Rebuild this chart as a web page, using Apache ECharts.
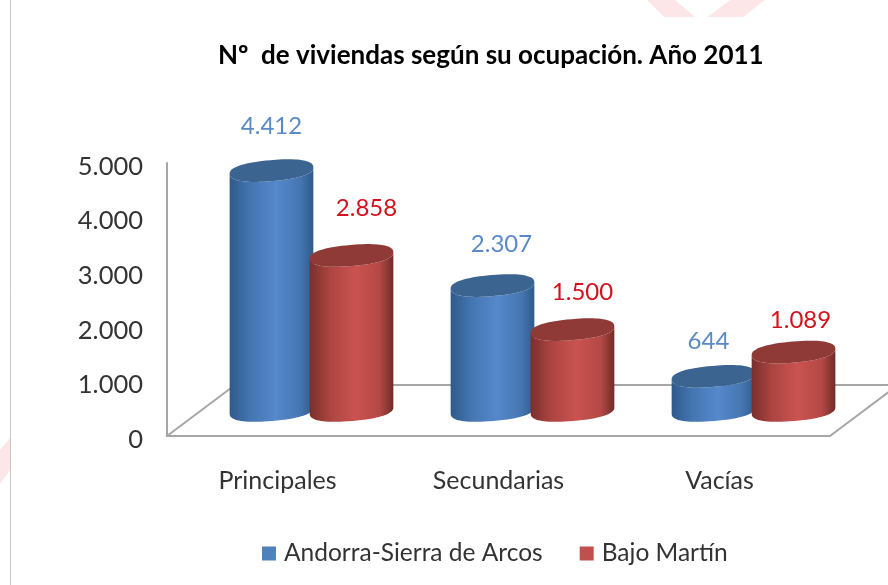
<!DOCTYPE html>
<html><head><meta charset="utf-8">
<style>html,body{margin:0;padding:0;background:#fff}#c{width:888px;height:585px}</style>
<script src="https://cdn.jsdelivr.net/npm/echarts@6/dist/echarts.min.js"></script>
</head><body><div id="c"></div>
<script>
const categories = ['Principales', 'Secundarias', 'Vacías'];
const andorra = [4412, 2307, 644];
const bajoMartin = [2858, 1500, 1089];
const yTicks = { min: 0, max: 5000, interval: 1000 };

// styling / layout constants (not data)
const FONT = 'Lato';
const DEPTH = { dx: 68, dy: -51 };
const R = { x: 42, y: 10.5, tilt: -0.085, blunt: 0.85 };
const fmt = v => String(v).replace(/\B(?=(\d{3})+$)/g, '.');
const labelNudge = {
  Andorra: [[0, -44], [9, -41], [-5, -35]],
  Bajo: [[15, -47], [10, -37], [7, -32]]
};
const paints = {
  Andorra: { top: '#3c6491', legend: '#4f81bd', text: '#5a8ac6', stops: ['#2e5a8c', '#4576b2', '#5588cc', '#4676b2', '#2f5b8b'] },
  Bajo: { top: '#8f3a36', legend: '#c0504d', text: '#d2121c', stops: ['#7a2f2c', '#ad4542', '#ca5350', '#b34845', '#702b28'] }
};

function ellipsePts(cx, cy, from, to, n) {
  const out = [];
  const pw = c => Math.sign(c) * Math.pow(Math.abs(c), R.blunt);
  for (let k = 0; k <= n; k++) {
    const t = from + (to - from) * k / n;
    const ex = R.x * pw(Math.cos(t)), ey = R.y * pw(Math.sin(t));
    out.push([cx + ex * Math.cos(R.tilt) - ey * Math.sin(R.tilt),
              cy + ex * Math.sin(R.tilt) + ey * Math.cos(R.tilt)]);
  }
  return out;
}

function cylinder(key, side) {
  return function (params, api) {
    const i = api.value(0), v = api.value(1);
    const base = api.coord([i, 0]), top = api.coord([i, v]);
    const band = api.size([1, 0])[0];
    const cx = base[0] + DEPTH.dx / 2 + side * band * 0.181;
    const by = base[1] + DEPTH.dy / 2;
    const ty = top[1] + DEPTH.dy / 2 + 1;
    const p = paints[key], s = p.stops;
    const nudge = labelNudge[key][i];
    const body = ellipsePts(cx, by, 0, Math.PI, 40).concat(ellipsePts(cx, ty, Math.PI, 0, 40));
    return {
      type: 'group',
      children: [
        { type: 'polygon', shape: { points: body },
          style: { fill: { type: 'linear', x: 0, y: 0, x2: 1, y2: 0,
            colorStops: [{ offset: 0, color: s[0] }, { offset: 0.25, color: s[1] }, { offset: 0.55, color: s[2] },
                         { offset: 0.84, color: s[3] }, { offset: 1, color: s[4] }] } } },
        { type: 'polygon', shape: { points: ellipsePts(cx, ty, 0, 2 * Math.PI, 80) }, style: { fill: p.top } },
        { type: 'text', x: cx + nudge[0], y: ty + nudge[1],
          style: { text: fmt(v), fill: p.text, font: '400 24px ' + FONT, align: 'center', verticalAlign: 'middle' } }
      ]
    };
  };
}

function floor(params, api) {
  const c = params.coordSys, x0 = c.x, x1 = c.x + c.width, y0 = c.y + c.height;
  const st = { stroke: '#a6a6a6', lineWidth: 2, fill: 'none' };
  const L = (a, b, d, e) => ({ type: 'line', shape: { x1: a, y1: b, x2: d, y2: e }, style: st });
  return { type: 'group', children: [
    L(x0, y0, x0 + DEPTH.dx, y0 + DEPTH.dy),
    L(x1, y0, x1 + DEPTH.dx, y0 + DEPTH.dy),
    L(x0 + DEPTH.dx, y0 + DEPTH.dy, x1 + DEPTH.dx, y0 + DEPTH.dy)
  ] };
}

const pts = arr => arr.map((v, i) => [i, v]);
const chart = echarts.init(document.getElementById('c'), null, { renderer: 'canvas' });
chart.setOption({
  animation: false,
  backgroundColor: '#fff',
  textStyle: { fontFamily: FONT },
  title: { text: 'Nº  de viviendas según su ocupación. Año 2011', left: 213, top: 38,
    textStyle: { fontFamily: FONT, fontSize: 26, fontWeight: 'bold', color: '#000' } },
  grid: { left: 167, top: 163, width: 663, height: 273 },
  xAxis: { type: 'category', data: categories,
    axisLine: { lineStyle: { color: '#a6a6a6', width: 2 } }, axisTick: { show: false },
    axisLabel: { margin: 32, fontSize: 25, color: '#333', fontFamily: FONT } },
  yAxis: { type: 'value', min: yTicks.min, max: yTicks.max, interval: yTicks.interval,
    axisLine: { show: true, lineStyle: { color: '#a6a6a6', width: 2 } }, axisTick: { show: false },
    splitLine: { show: false },
    axisLabel: { margin: 24, fontSize: 25.5, color: '#333', fontFamily: FONT, formatter: fmt, verticalAlign: 'top', lineHeight: 7 } },
  legend: { data: ['Andorra-Sierra de Arcos', 'Bajo Martín'], left: 257, top: 536, icon: 'rect',
    itemWidth: 14, itemHeight: 14, itemGap: 37,
    textStyle: { fontSize: 24.5, color: '#333', fontFamily: FONT, padding: [0, 0, 0, 3] } },
  graphic: [
    { type: 'polygon', silent: true, z: -1, shape: { points: [[647, 0], [675, 0], [695, 17], [664, 17]] }, style: { fill: '#fde6e8' } },
    { type: 'polygon', silent: true, z: -1, shape: { points: [[730, 0], [765, 0], [743, 17], [708, 17]] }, style: { fill: '#fde6e8' } },
    { type: 'polygon', silent: true, z: -1, shape: { points: [[10, 438], [10, 470], [0, 484], [0, 450]] }, style: { fill: '#fde6e8' } },
    { type: 'line', silent: true, z: -1, shape: { x1: 10.5, y1: 0, x2: 10.5, y2: 585 }, style: { stroke: '#c8c8c8', lineWidth: 1 } }
  ],
  series: [
    { type: 'custom', name: 'floor', renderItem: floor, data: [[0, 0]], encode: { x: 0, y: 1 }, clip: false, silent: true, z: 1 },
    { type: 'custom', name: 'Andorra-Sierra de Arcos', renderItem: cylinder('Andorra', -1), data: pts(andorra),
      encode: { x: 0, y: 1 }, clip: false, z: 2, itemStyle: { color: paints.Andorra.legend } },
    { type: 'custom', name: 'Bajo Martín', renderItem: cylinder('Bajo', 1), data: pts(bajoMartin),
      encode: { x: 0, y: 1 }, clip: false, z: 3, itemStyle: { color: paints.Bajo.legend } }
  ]
});
</script></body></html>
